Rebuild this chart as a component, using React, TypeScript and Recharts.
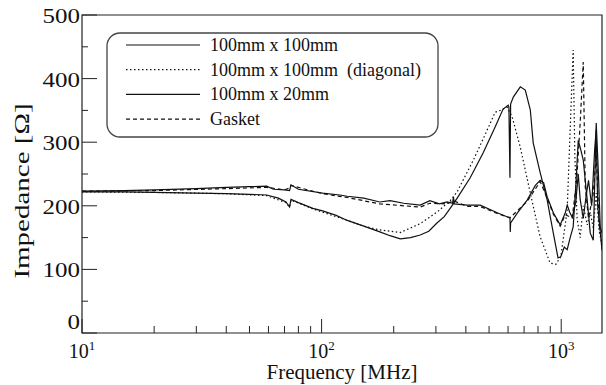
import React from "react";
import { LineChart, Line, XAxis, YAxis, ReferenceArea } from "recharts";

const FONT = "'Liberation Serif', 'Times New Roman', serif";

// axis ticks
const X_TICKS = [10, 20, 30, 40, 50, 60, 70, 80, 90, 100, 200, 300, 400, 500, 600, 700, 800, 900, 1000];
const X_MAJOR = [10, 100, 1000];
const Y_TICKS = [0, 50, 100, 150, 200, 250, 300, 350, 400, 450, 500];

// 100mm x 100mm (solid)
const sq100Freq = [10, 15, 20, 30, 40, 50, 59, 66, 71, 73.5, 74.5, 80, 92, 101, 115, 128, 150, 175, 193, 213, 235, 258, 280, 303, 325, 344, 368, 417, 472, 530, 572, 601, 605, 611, 615, 631, 675, 708, 743, 764, 817, 874, 927, 970, 996, 1030, 1059, 1090, 1122, 1150, 1178, 1200, 1236, 1284, 1322, 1361, 1400, 1430, 1455, 1480];
const sq100Imp = [222, 222, 221, 220, 219, 218, 217, 212, 206, 198, 210, 205, 196, 192, 185, 177, 168, 159, 153, 148, 150, 154, 160, 173, 183, 196, 212, 244, 283, 324, 352, 358, 355, 244, 360, 371, 387, 382, 351, 299, 252, 209, 157, 118, 120, 135, 131, 150, 167, 230, 303, 292, 272, 209, 157, 146, 330, 250, 167, 157];

// 100mm x 100mm (diagonal), dotted
const diagFreq = [10, 20, 40, 59, 71, 73.5, 74.5, 92, 128, 150, 175, 213, 258, 303, 344, 368, 430, 491, 530, 556, 595, 624, 675, 743, 817, 899, 950, 996, 1059, 1091, 1122, 1140, 1165, 1200, 1236, 1284, 1322, 1361, 1400, 1440, 1480];
const diagImp = [222, 221, 219, 216, 205, 198, 209, 195, 177, 168, 162, 158, 172, 190, 208, 222, 272, 319, 347, 350, 355, 340, 292, 220, 151, 110, 108, 120, 193, 324, 445, 280, 180, 150, 200, 170, 190, 165, 220, 160, 140];

// 100mm x 20mm (solid)
const sq20Freq = [10, 15, 20, 30, 40, 50, 59, 63, 70, 73.5, 74.5, 80, 101, 119, 128, 150, 175, 193, 220, 258, 283, 310, 334, 352, 355, 358, 405, 459, 541, 600, 611, 613, 615, 660, 721, 780, 817, 845, 874, 927, 990, 1040, 1060, 1085, 1112, 1150, 1178, 1200, 1236, 1270, 1300, 1340, 1380, 1400, 1420, 1455, 1480];
const sq20Imp = [223, 224, 225, 227, 229, 230, 231, 226, 225, 224, 233, 226, 220, 217, 215, 212, 206, 208, 204, 201, 208, 203, 206, 204, 214, 203, 201, 201, 189, 182, 182, 159, 173, 190, 209, 232, 240, 236, 214, 189, 170, 189, 201, 190, 182, 205, 250, 210, 180, 215, 240, 200, 290, 320, 200, 160, 130];

// Gasket (dashed)
const gasketFreq = [10, 20, 40, 59, 70, 73.5, 74.5, 101, 128, 175, 258, 283, 334, 355, 405, 459, 541, 611, 721, 817, 874, 927, 990, 1040, 1112, 1160, 1200, 1236, 1260, 1300, 1361, 1400, 1440, 1480];
const gasketImp = [223, 224, 227, 229, 225, 228, 232, 219, 213, 203, 198, 204, 203, 208, 199, 199, 188, 181, 207, 238, 212, 187, 168, 186, 181, 240, 330, 426, 230, 180, 220, 280, 170, 140];

const zip = (f: number[], z: number[]) => f.map((v, i) => ({ f: v, z: z[i] }));

const SERIES = [
  { name: "100mm x 100mm", data: zip(sq100Freq, sq100Imp), dash: undefined as string | undefined },
  { name: "100mm x 100mm  (diagonal)", data: zip(diagFreq, diagImp), dash: "1.5 2.5" },
  { name: "100mm x 20mm", data: zip(sq20Freq, sq20Imp), dash: undefined },
  { name: "Gasket", data: zip(gasketFreq, gasketImp), dash: "4 3" },
];

function XTick(props: any) {
  const { x, y, payload } = props;
  const v = payload.value as number;
  const major = X_MAJOR.includes(v);
  return (
    <g>
      <line x1={x} x2={x} y1={y} y2={y - (major ? 14 : 7)} stroke="#222" strokeWidth={1} />
      {major && (
        <text x={x} y={y + 25} textAnchor="middle" fontFamily={FONT} fontSize={20} fill="#111">
          10
          <tspan dy={-8} fontSize={13}>{Math.round(Math.log10(v))}</tspan>
        </text>
      )}
    </g>
  );
}

function YTick(props: any) {
  const { x, y, payload } = props;
  const v = payload.value as number;
  const major = v % 100 === 0;
  return (
    <g>
      <line x1={x} x2={x + (major ? 15 : 6)} y1={y} y2={y} stroke="#222" strokeWidth={1} />
      {major && (
        <text
          transform={`translate(${x - 2},${v === 0 ? y - 4 : y + 8}) scale(1.25,1)`}
          textAnchor="end"
          fontFamily={FONT}
          fontSize={20}
          fill="#111"
        >
          {v}
        </text>
      )}
    </g>
  );
}

function Legendbox() {
  return (
    <svg width={606} height={385} style={{ position: "absolute", left: 0, top: 0, pointerEvents: "none" }}>
      <rect x={107} y={33} width={331} height={104} rx={13} fill="#fff" stroke="#444" strokeWidth={1.3} />
      {SERIES.map((s, i) => {
        const yy = 45 + i * 24.7;
        return (
          <g key={s.name}>
            <line x1={126} x2={200} y1={yy} y2={yy} stroke="#111" strokeWidth={1.2} strokeDasharray={s.dash} />
            <text x={210} y={yy + 6} fontFamily={FONT} fontSize={18} fill="#111" style={{ whiteSpace: "pre" }}>
              {s.name}
            </text>
          </g>
        );
      })}
    </svg>
  );
}

export default function App() {
  return (
    <div style={{ position: "absolute", left: 0, top: 0, width: 606, height: 385, background: "#fff" }}>
      <LineChart width={606} height={385} margin={{ top: 15, right: 4, bottom: 0, left: 0 }}>
        <XAxis
          dataKey="f"
          type="number"
          scale="log"
          domain={[10, 1480]}
          allowDataOverflow
          ticks={X_TICKS}
          interval={0}
          height={52}
          tickSize={0}
          tickMargin={0}
          tickLine={false}
          axisLine={false}
          tick={<XTick />}
          label={{ value: "Frequency [MHz]", position: "insideBottom", offset: 6, fontFamily: FONT, fontSize: 21, fill: "#111" }}
        />
        <YAxis
          type="number"
          domain={[0, 500]}
          ticks={Y_TICKS}
          interval={0}
          width={82}
          tickSize={0}
          tickMargin={0}
          tickLine={false}
          axisLine={false}
          tick={<YTick />}
          label={{
            content: () => (
              <text
                transform="translate(29,191) rotate(-90) scale(1.38,1)"
                textAnchor="middle"
                fontFamily={FONT}
                fontSize={21}
                fill="#111"
              >
                Impedance [Ω]
              </text>
            ),
          }}
        />
        <ReferenceArea x1={10} x2={1480} y1={0} y2={500} fill="none" stroke="#222" strokeWidth={1.2} ifOverflow="visible" />
        {SERIES.map((s) => (
          <Line
            key={s.name}
            data={s.data}
            dataKey="z"
            type="linear"
            stroke="#111"
            strokeWidth={1.2}
            strokeDasharray={s.dash}
            dot={false}
            isAnimationActive={false}
          />
        ))}
      </LineChart>
      <Legendbox />
    </div>
  );
}
